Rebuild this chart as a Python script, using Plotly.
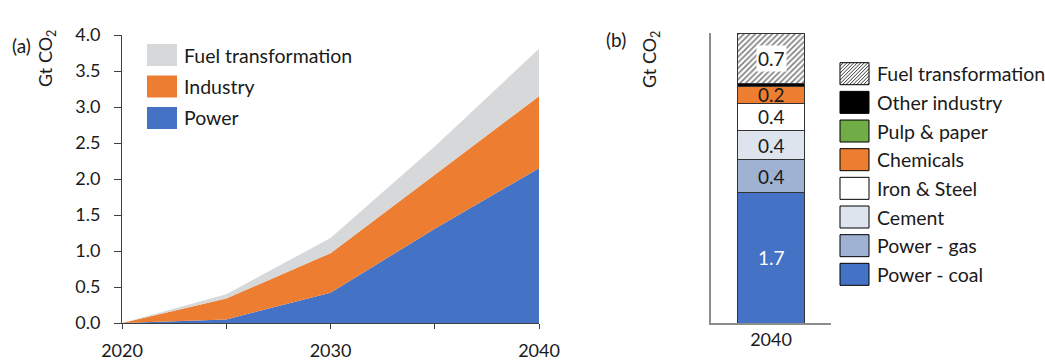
import plotly.graph_objects as go

# ---- data -------------------------------------------------------------
years = [2020, 2025, 2030, 2035, 2040]
labelled_years = [2020, 2030, 2040]
power = [0.0, 0.05, 0.42, 1.31, 2.15]
industry = [0.0, 0.29, 0.55, 0.75, 1.00]
fuel_transformation = [0.0, 0.06, 0.21, 0.39, 0.66]
area_series = ["Power", "Industry", "Fuel transformation"]

bar_year = "2040"
sectors = ["Power - coal", "Power - gas", "Cement", "Iron & Steel",
           "Chemicals", "Pulp & paper", "Other industry", "Fuel transformation"]
sector_values = [1.71, 0.43, 0.38, 0.36, 0.22, 0.0, 0.04, 0.66]

# ---- styling ----------------------------------------------------------
W, H = 1045, 360
FONT = "Lato"
TXT = "#1a1a1a"
AREA_COLORS = {"Power": "#4472C4", "Industry": "#ED7D31",
               "Fuel transformation": "#D7D8DA"}
SECTOR_COLORS = {"Power - coal": "#4472C4", "Power - gas": "#9FB2D2",
                 "Cement": "#DEE4EE", "Iron & Steel": "#FFFFFF",
                 "Chemicals": "#ED7D31", "Pulp & paper": "#70AD47",
                 "Other industry": "#000000", "Fuel transformation": "#FFFFFF"}


def px(x):
    return x / W


def py(y):
    return 1 - y / H


fig = go.Figure()

# panel (a): stacked areas
for name, vals in zip(area_series, [power, industry, fuel_transformation]):
    fig.add_trace(go.Scatter(
        x=years, y=vals, name=name, stackgroup="a", mode="none",
        fillcolor=AREA_COLORS[name], showlegend=False,
        xaxis="x", yaxis="y"))

# panel (b): one stacked bar, placed at position 0 of its own axis
BAR_POS = 0
for name, v in zip(sectors, sector_values):
    marker = dict(color=SECTOR_COLORS[name], line=dict(color="#333333", width=1))
    if name == "Fuel transformation":
        marker["pattern"] = dict(shape="/", fgcolor="#000000", bgcolor="#FFFFFF",
                                 size=4, solidity=0.4)
    fig.add_trace(go.Bar(x=[BAR_POS], y=[v], name=name, marker=marker,
                         width=0.56, showlegend=False, xaxis="x2", yaxis="y2"))

annotations = []
shapes = []

# segment value labels
base = 0.0
for name, v in zip(sectors, sector_values):
    if v >= 0.1:
        annotations.append(dict(
            x=BAR_POS, y=base + v / 2, xref="x2", yref="y2",
            xanchor="center", yanchor="middle",
            text=f"{v:.1f}", showarrow=False,
            font=dict(family=FONT, size=19,
                      color="#FFFFFF" if name == "Power - coal" else TXT),
            bgcolor="#FFFFFF" if name == "Fuel transformation" else None,
            borderpad=1))
    base += v
annotations.append(dict(x=BAR_POS, y=base, xref="x2", yref="y2",
                        text=f"{base:.1f}", showarrow=False,
                        xanchor="center", yanchor="bottom", yshift=1,
                        font=dict(family=FONT, size=19, color=TXT)))

# panel titles and axis titles
for label, x, y in [("(a)", 21, 45), ("(b)", 616, 39)]:
    annotations.append(dict(x=px(x), y=py(y), xref="paper", yref="paper",
                            xanchor="center", yanchor="middle",
                            text=label, showarrow=False,
                            font=dict(family=FONT, size=19, color=TXT)))
for x, y in [(47, 59), (651, 60)]:
    annotations.append(dict(x=px(x), y=py(y), xref="paper", yref="paper",
                            xanchor="center", yanchor="middle",
                            text="Gt CO<sub>2</sub>", textangle=-90,
                            showarrow=False,
                            font=dict(family=FONT, size=18, color=TXT)))

# legend for panel (a)
leg_a = ["Fuel transformation", "Industry", "Power"]
for i, name in enumerate(leg_a):
    yc = 55 + i * 31.5
    shapes.append(dict(type="rect", xref="paper", yref="paper",
                       x0=px(147), x1=px(177), y0=py(yc + 11), y1=py(yc - 11),
                       fillcolor=AREA_COLORS[name], line=dict(width=0)))
    annotations.append(dict(x=px(182), y=py(yc), xref="paper", yref="paper",
                            text=name, showarrow=False,
                            xanchor="left", yanchor="middle",
                            font=dict(family=FONT, size=19.5, color=TXT)))


def hatch_path(x0, y0, x1, y1, step):
    """Diagonal '/' lines clipped to a box given in pixel coordinates."""
    parts = []
    c = x0 + y0 + step
    while c < x1 + y1:
        pts = []
        for x in (x0, x1):
            y = c - x
            if y0 <= y <= y1:
                pts.append((x, y))
        for y in (y0, y1):
            x = c - y
            if x0 <= x <= x1:
                pts.append((x, y))
        pts = sorted(set(pts))
        if len(pts) >= 2:
            (ax, ay), (bx, by) = pts[0], pts[-1]
            parts.append(f"M{px(ax):.5f},{py(ay):.5f}L{px(bx):.5f},{py(by):.5f}")
        c += step
    return "".join(parts)


# legend for panel (b)
leg_b = list(reversed(sectors))
for i, name in enumerate(leg_b):
    yc = 73.7 + i * 28.66
    x0, x1, y0, y1 = 840, 869, yc - 11, yc + 11
    shapes.append(dict(type="rect", xref="paper", yref="paper",
                       x0=px(x0), x1=px(x1), y0=py(y1), y1=py(y0),
                       fillcolor=SECTOR_COLORS[name],
                       line=dict(color="#000000", width=1)))
    if name == "Fuel transformation":
        shapes.append(dict(type="path", xref="paper", yref="paper",
                           path=hatch_path(x0, y0, x1, y1, 3.5),
                           line=dict(color="#000000", width=0.8)))
    annotations.append(dict(x=px(875), y=py(yc), xref="paper", yref="paper",
                            text=name, showarrow=False,
                            xanchor="left", yanchor="middle",
                            font=dict(family=FONT, size=19.5, color=TXT)))

axis_font = dict(family=FONT, size=18, color=TXT)
fig.update_layout(
    width=W, height=H, margin=dict(l=0, r=0, t=0, b=0, autoexpand=False),
    paper_bgcolor="#FFFFFF", plot_bgcolor="#FFFFFF",
    font=dict(family=FONT, color=TXT),
    barmode="stack",
    xaxis=dict(domain=[px(122), px(539)], range=[2020, 2040],
               tickmode="array", tickvals=labelled_years,
               ticks="outside", ticklen=5, tickcolor="#404040",
               minor=dict(tick0=2020, dtick=5, ticks="outside", ticklen=5,
                          tickcolor="#404040", showgrid=False),
               showline=True, linecolor="#404040", linewidth=1,
               showgrid=False, zeroline=False, tickfont=axis_font,
               ticklabelstandoff=6, automargin=False, anchor="y"),
    yaxis=dict(domain=[py(323), py(35)], range=[0, 4], dtick=0.5,
               tickformat=".1f", ticks="outside", ticklen=7,
               tickcolor="#404040", showline=True, linecolor="#404040",
               linewidth=1, showgrid=False, zeroline=False,
               tickfont=axis_font, ticklabelstandoff=10, automargin=False,
               anchor="x"),
    xaxis2=dict(domain=[px(711), px(831)], range=[-0.5, 0.5],
                tickmode="array", tickvals=[BAR_POS], ticktext=[bar_year],
                showline=True, linecolor="#8C8C8C", linewidth=1.5,
                ticks="", showgrid=False, zeroline=False, tickfont=axis_font,
                ticklabelstandoff=0, automargin=False, anchor="y2"),
    yaxis2=dict(domain=[py(323), py(33)], range=[0, 3.8],
                showline=True, linecolor="#8C8C8C", linewidth=1.5,
                ticks="", showticklabels=False, showgrid=False,
                zeroline=False, automargin=False, anchor="x2"),
    annotations=annotations, shapes=shapes,
)

fig.write_html("out.html")
